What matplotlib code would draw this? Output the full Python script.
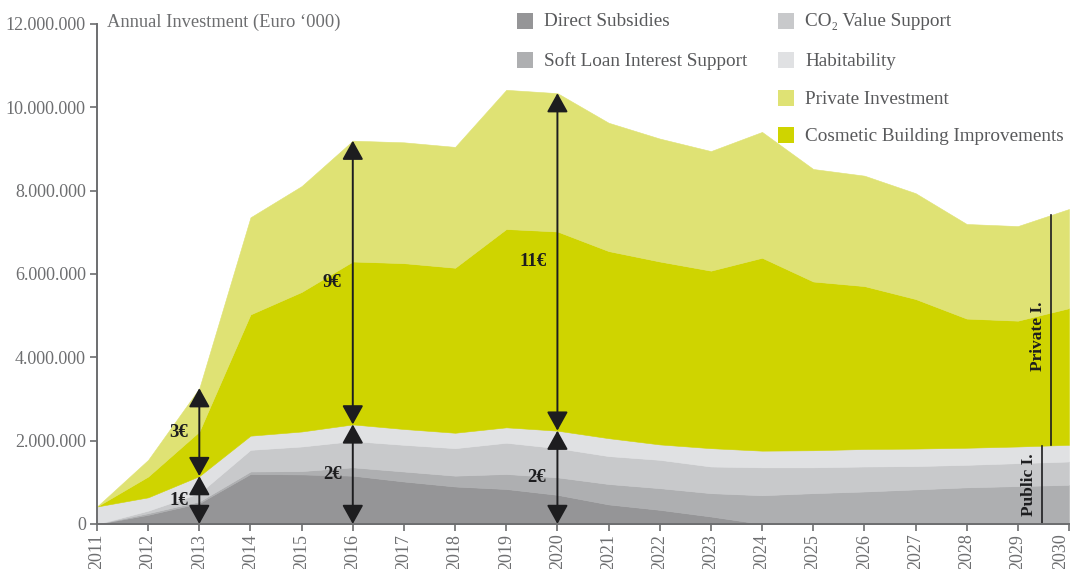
import numpy as np
import matplotlib
matplotlib.use("Agg")
import matplotlib.pyplot as plt
from matplotlib.patches import Rectangle
from matplotlib.ticker import FuncFormatter

plt.rcParams['font.family'] = ['Liberation Serif', 'DejaVu Serif']

# values in Euro '000 (millions on the axis scale -> multiplied below)
years = [str(y) for y in range(2011, 2031)]
direct_subsidies = [0, 0.22, 0.50, 1.20, 1.19, 1.16, 1.02, 0.90, 0.84, 0.70,
                    0.47, 0.34, 0.18, 0, 0, 0, 0, 0, 0, 0]
soft_loan = [0, 0.04, 0.04, 0.06, 0.08, 0.20, 0.24, 0.26, 0.36, 0.42,
             0.49, 0.52, 0.56, 0.69, 0.74, 0.78, 0.83, 0.88, 0.91, 0.94]
co2_support = [0, 0.06, 0.20, 0.52, 0.59, 0.63, 0.64, 0.66, 0.75, 0.70,
               0.67, 0.68, 0.64, 0.67, 0.62, 0.60, 0.56, 0.54, 0.55, 0.56]
habitability = [0.42, 0.32, 0.41, 0.34, 0.36, 0.40, 0.38, 0.37, 0.37, 0.42,
                0.43, 0.37, 0.44, 0.40, 0.41, 0.42, 0.42, 0.41, 0.40, 0.40]
cosmetic = [0, 0.50, 1.07, 2.91, 3.35, 3.91, 3.98, 3.96, 4.76, 4.78,
            4.49, 4.39, 4.26, 4.63, 4.05, 3.91, 3.59, 3.10, 3.02, 3.28]
private = [0, 0.40, 1.04, 2.33, 2.54, 2.90, 2.90, 2.90, 3.34, 3.32,
           3.08, 2.95, 2.87, 3.02, 2.70, 2.65, 2.54, 2.27, 2.27, 2.38]

# euro per euro annotations: (year index, public label, private label)
arrow_years = [2, 5, 9]
public_labels = ["1€", "2€", "2€"]
private_labels = ["3€", "9€", "11€"]

layers = [direct_subsidies, soft_loan, co2_support, habitability, cosmetic, private]
layers = [np.array(l) * 1e6 for l in layers]
colors = ['#959597', '#aeafb1', '#c8c9cb', '#e0e1e3', '#cfd400', '#dfe274']
names = ['Direct Subsidies', 'Soft Loan Interest Support', 'CO₂ Value Support',
         'Habitability', 'Cosmetic Building Improvements', 'Private Investment']

W, H = 1070, 569
fig = plt.figure(figsize=(W / 100, H / 100), dpi=100)
ax = fig.add_axes([97 / W, (H - 524) / H, (1069 - 97) / W, 500 / H])

x = np.arange(len(years))
polys = ax.stackplot(x, *layers, colors=colors, linewidth=0.4)
for p, c in zip(polys, colors):
    p.set_edgecolor(c)

cum = np.cumsum(layers, axis=0)
public_top = cum[3]
total = cum[5]

ink = '#1d1d1f'
grey = '#6d6e70'

for i, pl, pr in zip(arrow_years, public_labels, private_labels):
    for lo, hi, lab in [(0, public_top[i], pl), (public_top[i], total[i], pr)]:
        ax.annotate('', xy=(i, hi), xytext=(i, lo),
                    arrowprops=dict(arrowstyle='<|-|>,head_length=0.9,head_width=0.5',
                                    color=ink, lw=1.4, shrinkA=0, shrinkB=0,
                                    mutation_scale=13))
        ax.annotate(lab, xy=(i, (lo + hi) / 2), xytext=(-8, 0),
                    textcoords='offset points', ha='right', va='center',
                    fontsize=13.5, fontweight='bold', color=ink)

# public / private brackets near the end
xp, xq = 18.47, 18.65
pub_h = np.interp(xp, x, public_top)
ax.plot([xp, xp], [0, pub_h], color=ink, lw=1.2)
ax.text(xp - 0.1, pub_h / 2, 'Public I.', rotation=90, ha='right', va='center',
        fontsize=12.5, fontweight='bold', color=ink)
lo_q = np.interp(xq, x, public_top)
hi_q = np.interp(xq, x, total)
ax.plot([xq, xq], [lo_q, hi_q], color=ink, lw=1.2)
ax.text(xq - 0.1, (lo_q + hi_q) / 2 - 0.14e6, 'Private I.', rotation=90, ha='right',
        va='center', fontsize=12.5, fontweight='bold', color=ink)

ax.set_xlim(0, len(years) - 1)
ax.set_ylim(0, 12e6)
ax.set_xticks(x)
ax.set_xticklabels(years, rotation=90)
ax.get_xticklabels()[-1].set_ha('right')
ax.set_yticks(np.arange(0, 12e6 + 1, 2e6))
ax.yaxis.set_major_formatter(FuncFormatter(lambda v, p: f"{int(v):,}".replace(',', '.')))
for s in ['top', 'right']:
    ax.spines[s].set_visible(False)
for s in ['left', 'bottom']:
    ax.spines[s].set_color(grey)
    ax.spines[s].set_linewidth(1.4)
ax.tick_params(axis='both', colors=grey, labelcolor=grey, labelsize=13,
               length=5, width=1.2, pad=3)
ax.tick_params(axis='x', pad=2)
ax.set_facecolor('none')

fig.text(107 / W, 1 - 22 / H, 'Annual Investment (Euro ‘000)', fontsize=13.3,
         color=grey, ha='left', va='center')

# legend
legend_pos = [(517, 21), (517, 60), (778, 21), (778, 60), (778, 135), (778, 98)]
for (lx, ly), c, n in zip(legend_pos, colors, names):
    fig.add_artist(Rectangle((lx / W, 1 - (ly + 8) / H), 16 / W, 16 / H,
                             transform=fig.transFigure, color=c, lw=0))
    fig.text((lx + 27) / W, 1 - (ly + 1) / H, n, fontsize=13.8, color='#58595b',
             ha='left', va='center')

fig.savefig('out.png', dpi=100)
